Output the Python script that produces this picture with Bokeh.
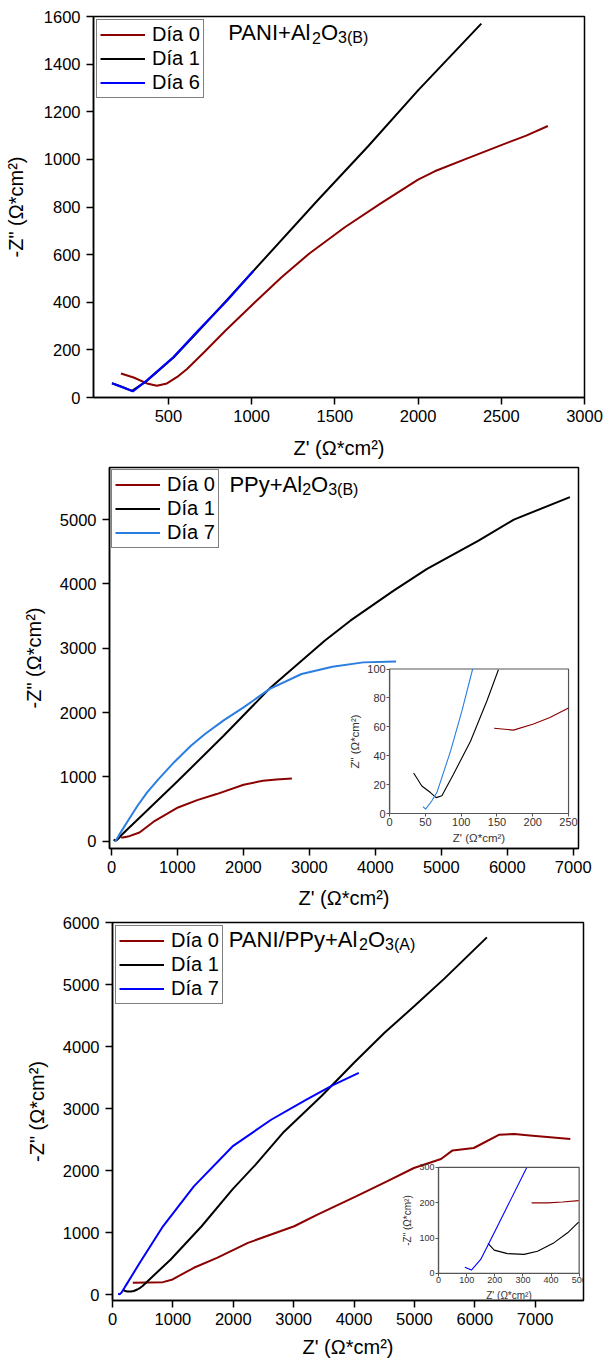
from bokeh.plotting import figure
from bokeh.models import Range1d, LinearAxis, SingleIntervalTicker, Label
from bokeh.layouts import column
from bokeh.embed import file_html
from bokeh.resources import INLINE

FONT = "Liberation Sans"
RED = "#8B0000"
BLACK = "#000000"
BLUE = "#0000FF"
LBLUE = "#2A7DE1"

# ---------------- data: panel 1  PANI+Al2O3(B) ----------------
p1_x_day0 = [215, 291, 371, 431, 491, 560, 612, 722, 842, 1020, 1180, 1347, 1560, 1776, 2000, 2100, 2300, 2500, 2650, 2780]
p1_y_day0 = [101, 84, 59, 49, 59, 90, 120, 195, 280, 400, 505, 605, 715, 815, 915, 950, 1005, 1060, 1100, 1140]
p1_x_day1 = [161, 220, 281, 371, 531, 682, 1010, 1393, 1700, 2000, 2380]
p1_y_day1 = [60, 45, 28, 70, 168, 280, 531, 825, 1055, 1290, 1570]
p1_x_day6 = [161, 220, 286, 371, 531, 682, 850, 1010]
p1_y_day6 = [60, 44, 26, 72, 170, 283, 405, 531]

# ---------------- data: panel 2  PPy+Al2O3(B) ----------------
p2_x_day0 = [146, 173, 250, 425, 658, 1009, 1300, 1594, 2003, 2296, 2500, 2735]
p2_y_day0 = [59, 58, 73, 137, 319, 526, 640, 734, 879, 941, 960, 977]
p2_x_day1 = [33, 45, 57, 65, 73, 89, 113, 136, 152, 500, 1009, 1700, 2414, 3232, 3621, 4278, 4784, 5565, 6100, 6950]
p2_y_day1 = [28, 19, 15, 11, 12, 27, 50, 78, 99, 440, 941, 1640, 2392, 3118, 3429, 3896, 4233, 4673, 5000, 5350]
p2_x_day7 = [47, 50, 59, 66, 85, 101, 116, 250, 400, 541, 700, 950, 1200, 1418, 1700, 2003, 2400, 2882, 3349, 3817, 4315]
p2_y_day7 = [5, 3, 9, 15, 43, 71, 100, 319, 560, 760, 950, 1230, 1480, 1667, 1880, 2081, 2370, 2600, 2714, 2781, 2796]
# inset 2
i2_x_day0 = [146, 173, 201, 224, 250]
i2_y_day0 = [59, 57.7, 62, 66.5, 73]
i2_x_day1 = [33.5, 45, 57, 65, 73, 89, 113, 136, 152]
i2_y_day1 = [28, 19, 14.5, 11, 12.3, 27, 50, 78, 99.5]
i2_x_day7 = [46.6, 50.3, 59, 66, 85, 101, 116]
i2_y_day7 = [4.8, 3, 8.8, 14.5, 43, 71, 100]

# ---------------- data: panel 3  PANI/PPy+Al2O3(A) ----------------
p3_x_day0 = [336, 836, 995, 1347, 1731, 2243, 3009, 3394, 4033, 4545, 4992, 5441, 5631, 5983, 6398, 6655, 6911, 7582]
p3_y_day0 = [196, 206, 249, 437, 598, 839, 1106, 1294, 1588, 1830, 2045, 2190, 2328, 2367, 2580, 2591, 2569, 2511]
p3_x_day1 = [176, 198, 245, 304, 352, 411, 459, 498, 964, 1476, 1987, 2370, 2819, 3458, 4000, 4500, 5000, 5500, 6200]
p3_y_day1 = [85, 66, 56, 54, 63, 87, 115, 145, 571, 1106, 1700, 2100, 2608, 3200, 3740, 4220, 4654, 5100, 5760]
p3_x_day7 = [93, 117, 150, 198, 245, 313, 452, 836, 1347, 1987, 2627, 3204, 3650, 4079]
p3_y_day7 = [18, 9, 40, 115, 190, 298, 517, 1106, 1749, 2392, 2822, 3143, 3380, 3577]
# inset 3
i3_x_day0 = [331, 388, 441, 498]
i3_y_day0 = [199.5, 199.5, 202, 206]
i3_x_day1 = [176, 198, 245, 304, 352, 411, 459, 498]
i3_y_day1 = [85, 66, 56, 54, 63, 87, 115, 145]
i3_x_day7 = [93.5, 117, 150, 198, 245, 313]
i3_y_day7 = [17.8, 9.4, 39.5, 115, 190, 298]

XLABEL = "Z' (Ω*cm²)"
YLABEL = '-Z" (Ω*cm²)'

AW = {"P": .667, "A": .667, "N": .722, "I": .278, "+": .584, "l": .222, "O": .778,
      "2": .556, "3": .556, "(": .333, ")": .333, "B": .667, "y": .5, "/": .278}


def text_w(s, size):
    return sum(AW.get(c, .556) for c in s) * size


def make_fig(h, xr, yr, xint, yint, borders, xt_stand=12, yt_stand=13):
    l, r, t, b = borders
    p = figure(width=605, height=h, x_range=Range1d(*xr), y_range=Range1d(*yr),
               output_backend="svg", toolbar_location=None,
               min_border_left=l, min_border_right=r, min_border_top=t, min_border_bottom=b)
    if "frame_align" in p.properties():
        p.frame_align = False
    p.grid.visible = False
    p.outline_line_color = "black"
    p.outline_line_width = 1.5
    p.background_fill_color = "white"
    p.border_fill_color = "white"
    p.xaxis.ticker = SingleIntervalTicker(interval=xint, num_minor_ticks=0)
    p.yaxis.ticker = SingleIntervalTicker(interval=yint, num_minor_ticks=0)
    for ax in (p.xaxis[0], p.yaxis[0]):
        ax.axis_line_color = "black"
        ax.axis_line_width = 1.5
        ax.major_tick_line_color = "black"
        ax.major_tick_line_width = 1.5
        ax.major_tick_out = 7
        ax.major_tick_in = 0
        ax.minor_tick_out = 0
        ax.minor_tick_in = 0
        ax.major_label_text_font = FONT
        ax.major_label_text_font_size = "16.5px"
        ax.major_label_text_color = "black"
        ax.axis_label_text_font = FONT
        ax.axis_label_text_font_size = "20px"
        ax.axis_label_text_font_style = "normal"
        ax.axis_label_text_color = "black"
    p.xaxis[0].axis_label = XLABEL
    p.yaxis[0].axis_label = YLABEL
    p.xaxis[0].major_label_standoff = 5
    p.xaxis[0].axis_label_standoff = xt_stand
    p.yaxis[0].major_label_standoff = 6
    p.yaxis[0].axis_label_standoff = yt_stand
    return p


def style_legend(p, margin):
    lg = p.legend[0]
    lg.location = "top_left"
    lg.margin = margin
    lg.padding = 3
    lg.spacing = 1
    lg.label_text_font = FONT
    lg.label_text_font_size = "20px"
    lg.label_text_color = "black"
    lg.label_height = 23
    lg.glyph_height = 23
    lg.glyph_width = 45
    lg.label_standoff = 7
    lg.border_line_color = "black"
    lg.border_line_width = 1
    lg.background_fill_alpha = 1


def add_title(p, x, y, parts, big=22, small=16, lift=9):
    off = 0
    for s, sub in parts:
        size = small if sub else big
        p.add_layout(Label(x=x, y=y, x_offset=off, y_offset=lift - 5 if sub else lift, text=s,
                           text_font=FONT, text_font_size=f"{size}px", text_color="black",
                           text_baseline="alphabetic"))
        off += text_w(s, size)


def add_inset(p, name, box, xr, yr, xint, yint, series, tick_size, lab_size, ylab):
    bx0, bx1, by0, by1 = box
    mx0, mx1 = p.x_range.start, p.x_range.end
    my0, my1 = p.y_range.start, p.y_range.end
    sx = (xr[1] - xr[0]) / (bx1 - bx0)
    sy = (yr[1] - yr[0]) / (by1 - by0)
    nx, ny = name + "x", name + "y"
    p.extra_x_ranges[nx] = Range1d(xr[0] + (mx0 - bx0) * sx, xr[0] + (mx1 - bx0) * sx)
    p.extra_y_ranges[ny] = Range1d(yr[0] + (my0 - by0) * sy, yr[0] + (my1 - by0) * sy)
    p.quad(left=[xr[0]], right=[xr[1]], bottom=[yr[0]], top=[yr[1]],
           x_range_name=nx, y_range_name=ny, fill_color="white",
           line_color="#555555", line_width=1.2)
    for xs, ys, c in series:
        p.line(xs, ys, x_range_name=nx, y_range_name=ny, line_color=c, line_width=1.1)
    axx = LinearAxis(x_range_name=nx, y_range_name=ny, fixed_location=yr[0], bounds=xr,
                     ticker=SingleIntervalTicker(interval=xint, num_minor_ticks=0),
                     axis_label=XLABEL)
    axy = LinearAxis(x_range_name=nx, y_range_name=ny, fixed_location=xr[0], bounds=yr,
                     ticker=SingleIntervalTicker(interval=yint, num_minor_ticks=0),
                     axis_label=ylab)
    for ax in (axx, axy):
        ax.axis_line_color = "#555555"
        ax.axis_line_width = 1.2
        ax.major_tick_line_color = "#555555"
        ax.major_tick_out = 3
        ax.major_tick_in = 0
        ax.minor_tick_out = 0
        ax.minor_tick_in = 0
        ax.major_label_text_font = FONT
        ax.major_label_text_font_size = f"{tick_size}px"
        ax.major_label_text_color = "#333333"
        ax.major_label_standoff = 1
        ax.axis_label_text_font = FONT
        ax.axis_label_text_font_size = f"{lab_size}px"
        ax.axis_label_text_font_style = "normal"
        ax.axis_label_text_color = "#333333"
        ax.axis_label_standoff = 3
    p.add_layout(axx, "below")
    p.add_layout(axy, "left")


# ---------------- panel 1 ----------------
p1 = make_fig(462, (50, 3000), (0, 1600), 500, 200, (93, 21, 16, 65), yt_stand=14)
p1.line(p1_x_day0, p1_y_day0, line_color=RED, line_width=2, legend_label="Día 0")
p1.line(p1_x_day1, p1_y_day1, line_color=BLACK, line_width=2, legend_label="Día 1")
p1.line(p1_x_day6, p1_y_day6, line_color=BLUE, line_width=2.2, legend_label="Día 6")
style_legend(p1, 3)
add_title(p1, 860, 1493, [("PANI+Al", False), ("2", True), ("O", False), ("3(B)", True)])

# ---------------- panel 2 ----------------
p2 = make_fig(450, (-30, 7080), (-112, 5810), 1000, 1000, (109, 27, 5, 64), xt_stand=11, yt_stand=12)
p2.line(p2_x_day0, p2_y_day0, line_color=RED, line_width=2, legend_label="Día 0")
p2.line(p2_x_day1, p2_y_day1, line_color=BLACK, line_width=2, legend_label="Día 1")
p2.line(p2_x_day7, p2_y_day7, line_color=LBLUE, line_width=2, legend_label="Día 7")
style_legend(p2, 2)
add_title(p2, 1788, 5409, [("PPy+Al", False), ("2", True), ("O", False), ("3(B)", True)])
add_inset(p2, "in2", (4217, 6929, 432, 2678), (0, 250), (0, 100), 50, 20,
          [(i2_x_day0, i2_y_day0, RED), (i2_x_day1, i2_y_day1, BLACK), (i2_x_day7, i2_y_day7, LBLUE)],
          11, 11.5, 'Z" (Ω*cm²)')

# ---------------- panel 3 ----------------
p3 = make_fig(448, (0, 7800), (-90, 6000), 1000, 1000, (112, 22, 10, 59), xt_stand=8, yt_stand=12)
p3.line(p3_x_day0, p3_y_day0, line_color=RED, line_width=2, legend_label="Día 0")
p3.line(p3_x_day1, p3_y_day1, line_color=BLACK, line_width=2, legend_label="Día 1")
p3.line(p3_x_day7, p3_y_day7, line_color=BLUE, line_width=2, legend_label="Día 7")
style_legend(p3, 3)
add_title(p3, 1926, 5582, [("PANI/PPy+Al", False), ("2", True), ("O", False), ("3(A)", True)])
add_inset(p3, "in3", (5399, 7728, 346, 2055), (0, 500), (0, 300), 100, 100,
          [(i3_x_day0, i3_y_day0, RED), (i3_x_day1, i3_y_day1, BLACK), (i3_x_day7, i3_y_day7, BLUE)],
          9, 10, '-Z" (Ω*cm²)')

layout = column(p1, p2, p3)
open("out.html", "w").write(file_html(layout, INLINE))
